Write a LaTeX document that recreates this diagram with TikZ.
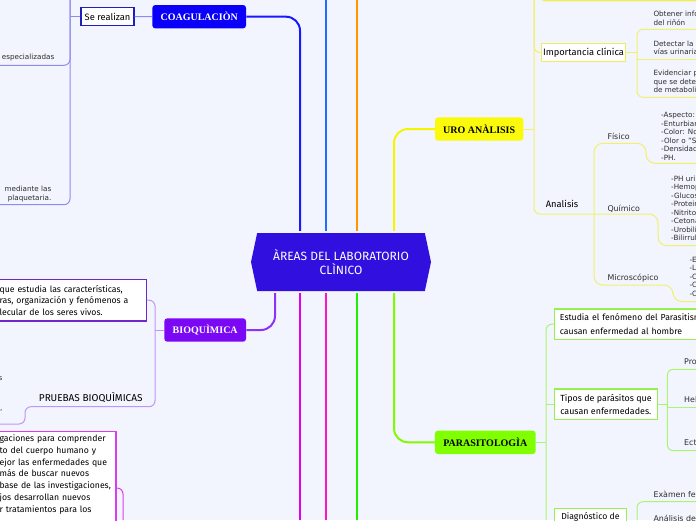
\documentclass[tikz,border=0pt]{standalone}
\usepackage{fontspec}
\setmainfont{DejaVu Sans}
\newfontfamily\serifbold{Liberation Serif}
\newfontfamily\firasans{Fira Sans}
\usepackage{xcolor}
\definecolor{paper}{RGB}{243,245,254}
\definecolor{centreblue}{RGB}{49,15,222}
\definecolor{coagblue}{RGB}{10,0,250}
\definecolor{bioqpurple}{RGB}{122,8,245}
\definecolor{uroyellow}{RGB}{250,250,10}
\definecolor{paragreen}{RGB}{128,255,0}
\definecolor{coagline}{RGB}{25,25,255}
\definecolor{blueline}{RGB}{30,110,255}
\definecolor{orangeline}{RGB}{255,150,0}
\definecolor{yellowline}{RGB}{245,245,0}
\definecolor{purpleline}{RGB}{140,50,250}
\definecolor{magentaline}{RGB}{225,0,245}
\definecolor{pinkline}{RGB}{255,20,200}
\definecolor{greenline}{RGB}{30,240,0}
\definecolor{limeline}{RGB}{130,250,0}
\definecolor{coagtwig}{RGB}{140,140,240}
\definecolor{seborder}{RGB}{30,30,190}
\definecolor{bioqtwig}{RGB}{190,150,250}
\definecolor{bioqborder}{RGB}{110,40,200}
\definecolor{invborder}{RGB}{220,60,240}
\definecolor{urotwig}{RGB}{240,240,110}
\definecolor{uroborder}{RGB}{238,238,90}
\definecolor{paratwig}{RGB}{170,245,110}
\definecolor{paraborder}{RGB}{150,240,80}
\definecolor{inkgray}{RGB}{45,45,45}
\usetikzlibrary{shapes.symbols, positioning}

\begin{document}
\begin{tikzpicture}[x=1pt, y=-1pt,
  topic/.style={rectangle, rounded corners=3, minimum height=23.4, inner sep=0, font=\serifbold\bfseries\fontsize{10}{12}\selectfont},
  sub/.style={rectangle, fill=white, line width=1.2, inner xsep=5, inner ysep=0, align=left, text=black, font=\firasans\fontsize{8.7}{11.6}\selectfont},
  note/.style={inner sep=0, align=left, text=inkgray, font=\fontsize{7.2}{8.5}\selectfont},
  label/.style={inner sep=0, align=left, text=inkgray, font=\fontsize{7.9}{9.5}\selectfont},
  firatext/.style={inner sep=0, align=left, text=black, font=\firasans\fontsize{9.3}{11.6}\selectfont},
  trunk/.style={line width=2, rounded corners=14},
  twig/.style={line width=1, rounded corners=6}
]
  \fill[paper] (0,0) rectangle (696,520);
  \useasboundingbox (0,0) rectangle (696,520);
  \clip (0,0) rectangle (696,520);

  \node[shape=signal, signal to=west and east, signal pointer angle=156, fill=centreblue, minimum width=180, minimum height=58, inner sep=0, text=white, align=center, font=\firasans\fontsize{12}{13.7}\selectfont] (centre) at (341,262) {ÀREAS DEL LABORATORIO\\CLÌNICO};

  \node[topic, fill=coagblue, text=white, minimum width=93.7] (coag) at (199.2,16.7) {COAGULACIÒN};
  \node[topic, fill=bioqpurple, text=white, minimum width=81.7] (bioq) at (205.2,330) {BIOQUÌMICA};
  \node[topic, fill=uroyellow, minimum width=88.3] (uro) at (479.2,129) {URO ANÀLISIS};
  \node[topic, fill=paragreen, minimum width=100.7] (parasit) at (485.3,442.3) {PARASITOLOGÌA};

  \coordinate (xa) at (300,0);
  \coordinate (xb) at (326,0);
  \coordinate (xc) at (357,0);
  \coordinate (xd) at (394,0);
  \coordinate (xe) at (275,520);
  \coordinate (ya) at (300,520);
  \coordinate (yb) at (326,520);
  \coordinate (yc) at (357,520);
  \coordinate (yd) at (394,520);

  \draw[trunk, coagline, shorten >=2] (coag.east) -| (centre.north -| xa);
  \draw[trunk, blueline, shorten <=2] (centre.north -| xb) -- (xb);
  \draw[trunk, orangeline, shorten <=2] (centre.north -| xc) -- (xc);
  \draw[trunk, yellowline, shorten >=2] (uro.west) -| (centre.north -| xd);
  \draw[trunk, purpleline, shorten >=2] (bioq.east) -| (centre.south -| xe);
  \draw[trunk, magentaline, shorten <=2] (centre.south -| ya) -- (ya);
  \draw[trunk, pinkline, shorten <=2] (centre.south -| yb) -- (yb);
  \draw[trunk, greenline, shorten <=2] (centre.south -| yc) -- (yc);
  \draw[trunk, limeline, shorten >=2] (parasit.west) -| (centre.south -| yd);

  \node[sub, draw=seborder, minimum width=53, minimum height=18.4, inner xsep=0, font=\firasans\fontsize{9.3}{11.6}\selectfont] (sereal) at (107.5,16.5) {Se realizan};
  \node[note, anchor=east] (espec) at (54.5,57.5) {especializadas};
  \node[note, anchor=east, align=right] (medi) at (51.5,194) {mediante las\\plaquetaria.};
  \coordinate (lt) at (70,0);
  \coordinate (l1) at (0,65.3);
  \coordinate (l2) at (0,204.7);
  \draw[twig, coagtwig] (coag.west) -- (sereal.east);
  \draw[twig, coagtwig] (sereal.west) -- (sereal.west -| lt);
  \draw[twig, coagtwig] (lt) |- (l2);
  \draw[twig, coagtwig] (l1) -| (lt);

  \node[sub, draw=bioqborder, anchor=west, text width=145, minimum height=41.7, inner xsep=2] (defbox) at (-3,300.2) {que estudia las características,\\ras, organización y fenómenos a\\lecular de los seres vivos.};
  \node[firatext, anchor=east, font=\firasans\fontsize{10}{12}\selectfont] (pruebas) at (142.7,397.3) {PRUEBAS BIOQUÌMICAS};
  \node[note, anchor=east] (frs) at (2.7,378.3) {s};
  \node[note, anchor=base east] (frc) at (2.7,410) {,};
  \coordinate (bt) at (155,406.7);
  \coordinate (bq) at (25,424);
  \coordinate (bq0) at (0,424);
  \draw[twig, bioqtwig] (defbox.east) -| (bt) -| (bq) -- (bq0);
  \draw[twig, bioqtwig] (bioq.west) -- (bioq.west -| bt);

  \node[sub, draw=invborder, anchor=north west, text width=114.3, inner xsep=2, inner ysep=3.5, font=\firasans\fontsize{8.7}{11.7}\selectfont] (invbox) at (-3,431) {gaciones para comprender\\to del cuerpo humano y\\ejor las enfermedades que\\más de buscar nuevos\\base de las investigaciones,\\jos desarrollan nuevos\\r tratamientos para los\\\mbox{}};
  \coordinate (mb) at (123,520);
  \draw[twig, invborder] (invbox.north east) ++(0,57) -| (mb);

  \node[draw=uroborder, line width=1.2, rounded corners=4, anchor=south west, minimum width=170, minimum height=20] (topbox) at (540,1.3) {};
  \node[sub, draw=uroborder, minimum width=84.4, minimum height=18.4, inner xsep=0, font=\firasans\fontsize{9.3}{11.6}\selectfont] (impc) at (583.5,52.5) {Importancia clínica};
  \coordinate (ut) at (534,0);
  \coordinate (aj) at (594,214);
  \draw[twig, urotwig] (uro.east) -- (uro.east -| ut);
  \draw[twig, urotwig] (ut) |- (aj);
  \draw[twig, urotwig] (ut) |- (impc.west);

  \node[note, anchor=west] (obt) at (653.3,18.3) {Obtener info\\del riñón};
  \node[note, anchor=west] (det) at (653.3,47.8) {Detectar la e\\vías urinaria};
  \node[note, anchor=west] (evi) at (653.3,81.7) {Evidenciar p\\que se deter\\de metaboli};
  \coordinate (ix) at (637,0);
  \coordinate (ia) at (696,29.3);
  \coordinate (ib) at (696,59.3);
  \coordinate (ic) at (696,97.3);
  \draw[twig, urotwig] (ia) -- (ia -| ix) -- (ic -| ix) -- (ic);
  \draw[twig, urotwig] (ib -| ix) -- (ib);
  \draw[twig, urotwig] (impc.east) -- (impc.east -| ix);

  \node[firatext, anchor=west] (anal) at (545.7,204.3) {Analisis};
  \node[label, anchor=west] (fis) at (607.3,136.7) {Físico};
  \node[label, anchor=west] (qui) at (607.3,208.7) {Químico};
  \node[label, anchor=west] (mic) at (607.3,277.7) {Microscópico};
  \node[note, anchor=west] (fistx) at (661,136.4) {-Aspecto:\\-Enturbiar\\-Color: No\\-Olor o "S\\-Densidad\\-PH.};
  \node[note, anchor=west] (quitx) at (671,208.5) {-PH uri\\-Hemop\\-Glucos\\-Protein\\-Nitrito\\-Cetona\\-Urobili\\-Bilirrul};
  \node[note, anchor=west] (mictx) at (689.3,276.7) {-E\\-L\\-C\\-C\\-C};
  \coordinate (fk) at (646,143.3);
  \coordinate (fe) at (696,163.3);
  \coordinate (qk) at (658,214);
  \coordinate (qe) at (696,245.7);
  \coordinate (mk) at (673,285);
  \coordinate (me) at (696,301.5);
  \draw[twig, urotwig, rounded corners=9] (aj) |- (fk) |- (fe);
  \draw[twig, urotwig, rounded corners=9] (aj) -- (qk) |- (qe);
  \draw[twig, urotwig, rounded corners=9] (aj) |- (mk) |- (me);

  \node[sub, draw=paraborder, anchor=west, text width=170, minimum height=30.3, inner xsep=5.3, font=\firasans\fontsize{8.7}{13.3}\selectfont] (est) at (554,324.2) {Estudia el fenómeno del Parasitism\\causan enfermedad al hombre};
  \node[sub, draw=paraborder, anchor=west, minimum width=102.7, minimum height=30.3, inner xsep=5.3, font=\firasans\fontsize{8.9}{12.6}\selectfont] (tip) at (554,404.2) {Tipos de parásitos que\\causan enfermedades.};
  \node[sub, draw=paraborder, anchor=north west, minimum width=71.7, inner xsep=5.3, inner ysep=4] (diag) at (554,507.7) {Diagnóstico de};
  \coordinate (pt) at (546,520);
  \draw[twig, paratwig] (est.west) -| (pt);
  \draw[twig, paratwig] (parasit.east) -- (parasit.east -| pt);
  \draw[twig, paratwig] (tip.west) -- (tip.west -| pt);

  \node[label, anchor=west] (pro) at (684,361.7) {Pro};
  \node[label, anchor=west] (hel) at (684,400) {Hel};
  \node[label, anchor=west] (ect) at (684,442.3) {Ect};
  \coordinate (tx) at (667.3,0);
  \coordinate (pa) at (696,369.3);
  \coordinate (pb) at (696,407);
  \coordinate (pc) at (696,450.7);
  \draw[twig, paratwig] (pa) -- (pa -| tx) -- (pc -| tx) -- (pc);
  \draw[twig, paratwig] (tip.east) -- (tip.east -| tx);
  \draw[twig, paratwig] (pb -| tx) -- (pb);

  \node[label, anchor=west] (exa) at (653.3,494) {Exàmen fe};
  \node[label, anchor=west] (anl) at (653.3,518.3) {Análisis de};
  \coordinate (ee) at (696,501.7);
  \coordinate (et) at (637,520);
  \draw[twig, paratwig] (ee) -| (et);
\end{tikzpicture}
\end{document}
